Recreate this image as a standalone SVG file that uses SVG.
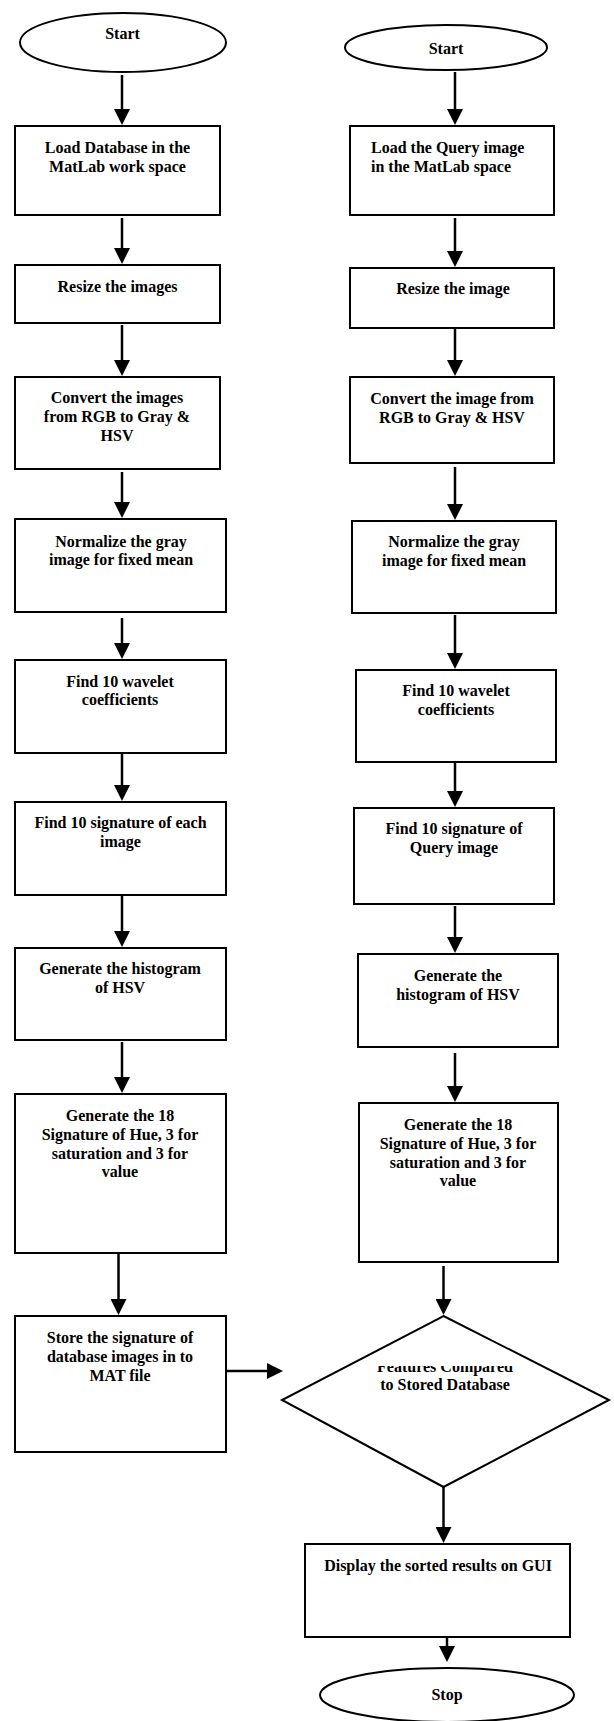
<svg xmlns="http://www.w3.org/2000/svg" width="614" height="1721" viewBox="0 0 614 1721">
<style>
.b{fill:#fff;stroke:#000;stroke-width:2}
.t{font-family:"Liberation Serif","Times New Roman",serif;font-weight:bold;font-size:16px;fill:#000;text-anchor:middle}
.l{text-anchor:start}
.c line{stroke:#000;stroke-width:2.5}
</style>
<defs>
<marker id="ah" markerUnits="userSpaceOnUse" markerWidth="16" markerHeight="16" refX="8" refY="8" orient="auto"><path d="M0,0 L16,8 L0,16 z" fill="#000"/></marker>
<clipPath id="dc"><rect x="280" y="1366" width="330" height="60"/></clipPath>
</defs>
<rect width="614" height="1721" fill="#fff"/>
<g class="c" id="connectors">
<line x1="122" y1="75" x2="122" y2="117" marker-end="url(#ah)"/>
<line x1="122" y1="218" x2="122" y2="256" marker-end="url(#ah)"/>
<line x1="122" y1="325" x2="122" y2="368" marker-end="url(#ah)"/>
<line x1="122" y1="472" x2="122" y2="510" marker-end="url(#ah)"/>
<line x1="122" y1="618" x2="122" y2="651" marker-end="url(#ah)"/>
<line x1="122" y1="753" x2="122" y2="793" marker-end="url(#ah)"/>
<line x1="122" y1="895" x2="122" y2="939" marker-end="url(#ah)"/>
<line x1="122" y1="1042" x2="122" y2="1085" marker-end="url(#ah)"/>
<line x1="118.5" y1="1251" x2="118.5" y2="1307" marker-end="url(#ah)"/>
<line x1="226" y1="1371" x2="275" y2="1371" marker-end="url(#ah)"/>
<line x1="455" y1="72" x2="455" y2="117" marker-end="url(#ah)"/>
<line x1="455" y1="218" x2="455" y2="259" marker-end="url(#ah)"/>
<line x1="455" y1="328" x2="455" y2="368" marker-end="url(#ah)"/>
<line x1="455" y1="467" x2="455" y2="512" marker-end="url(#ah)"/>
<line x1="455" y1="615" x2="455" y2="661" marker-end="url(#ah)"/>
<line x1="455" y1="758" x2="455" y2="799" marker-end="url(#ah)"/>
<line x1="455" y1="906" x2="455" y2="945" marker-end="url(#ah)"/>
<line x1="455" y1="1053" x2="455" y2="1094" marker-end="url(#ah)"/>
<line x1="443.5" y1="1266" x2="443.5" y2="1307" marker-end="url(#ah)"/>
<line x1="443.5" y1="1487" x2="443.5" y2="1535" marker-end="url(#ah)"/>
<line x1="447" y1="1637" x2="447" y2="1654" marker-end="url(#ah)"/>
</g>
<g id="start-left"><ellipse class="b" cx="123" cy="42.5" rx="103" ry="29.5"/><text class="t" x="122.5" y="39">Start</text></g>
<g id="load-db"><rect class="b" x="15" y="126" width="205" height="89"/><text class="t" x="117.5" y="153">Load Database in the</text><text class="t" x="117.5" y="172">MatLab work space</text></g>
<g id="resize-images"><rect class="b" x="15" y="265" width="205" height="58"/><text class="t" x="117.5" y="292">Resize the images</text></g>
<g id="convert-images"><rect class="b" x="15" y="377" width="205" height="92"/><text class="t" x="117" y="403">Convert the images</text><text class="t" x="117" y="422">from RGB to Gray &amp;</text><text class="t" x="117" y="441">HSV</text></g>
<g id="normalize-left"><rect class="b" x="15" y="519" width="211" height="93"/><text class="t" x="121" y="547">Normalize the gray</text><text class="t" x="121" y="565">image for fixed mean</text></g>
<g id="wavelet-left"><rect class="b" x="15" y="660" width="211" height="93"/><text class="t" x="120" y="687">Find 10 wavelet</text><text class="t" x="120" y="705">coefficients</text></g>
<g id="signature-left"><rect class="b" x="15" y="802" width="211" height="93"/><text class="t" x="120.5" y="828">Find 10 signature of each</text><text class="t" x="120.5" y="847">image</text></g>
<g id="histogram-left"><rect class="b" x="15" y="948" width="211" height="92"/><text class="t" x="120" y="974">Generate the histogram</text><text class="t" x="120" y="993">of HSV</text></g>
<g id="hue-left"><rect class="b" x="15" y="1094" width="211" height="159"/><text class="t" x="120" y="1121">Generate the 18</text><text class="t" x="120" y="1140">Signature of Hue, 3 for</text><text class="t" x="120" y="1159">saturation and 3 for</text><text class="t" x="120" y="1177">value</text></g>
<g id="store"><rect class="b" x="15" y="1316" width="211" height="136"/><text class="t" x="120" y="1343">Store the signature of</text><text class="t" x="120" y="1362">database images in to</text><text class="t" x="120" y="1381">MAT file</text></g>
<g id="start-right"><ellipse class="b" cx="446" cy="47.5" rx="101" ry="22.5"/><text class="t" x="446" y="54">Start</text></g>
<g id="load-query"><rect class="b" x="350" y="126" width="204" height="89"/><text class="t l" x="371" y="153">Load the Query image</text><text class="t l" x="371" y="172">in the MatLab space</text></g>
<g id="resize-image"><rect class="b" x="350" y="268" width="204" height="60"/><text class="t" x="453" y="294">Resize the image</text></g>
<g id="convert-image"><rect class="b" x="350" y="377" width="204" height="86"/><text class="t" x="452" y="404">Convert the image from</text><text class="t" x="452" y="423">RGB to Gray &amp; HSV</text></g>
<g id="normalize-right"><rect class="b" x="352" y="521" width="204" height="92"/><text class="t" x="454" y="547">Normalize the gray</text><text class="t" x="454" y="566">image for fixed mean</text></g>
<g id="wavelet-right"><rect class="b" x="356" y="670" width="200" height="92"/><text class="t" x="456" y="696">Find 10 wavelet</text><text class="t" x="456" y="715">coefficients</text></g>
<g id="signature-right"><rect class="b" x="354" y="808" width="200" height="96"/><text class="t" x="454" y="834">Find 10 signature of</text><text class="t" x="454" y="853">Query image</text></g>
<g id="histogram-right"><rect class="b" x="358" y="954" width="200" height="93"/><text class="t" x="458" y="981">Generate the</text><text class="t" x="458" y="1000">histogram of HSV</text></g>
<g id="hue-right"><rect class="b" x="359" y="1103" width="199" height="159"/><text class="t" x="458" y="1130">Generate the 18</text><text class="t" x="458" y="1149">Signature of Hue, 3 for</text><text class="t" x="458" y="1168">saturation and 3 for</text><text class="t" x="458" y="1186">value</text></g>
<g id="compare"><polygon class="b" points="443.5,1316 609,1400 443.5,1487 282,1400"/><g clip-path="url(#dc)"><text class="t" x="445" y="1372">Features Compared</text><text class="t" x="445" y="1390">to Stored Database</text></g></g>
<g id="display"><rect class="b" x="305" y="1544" width="265" height="93"/><text class="t" x="438" y="1571">Display the sorted results on GUI</text></g>
<g id="stop"><ellipse class="b" cx="447" cy="1695" rx="127" ry="27"/><text class="t" x="447" y="1700">Stop</text></g>
</svg>
